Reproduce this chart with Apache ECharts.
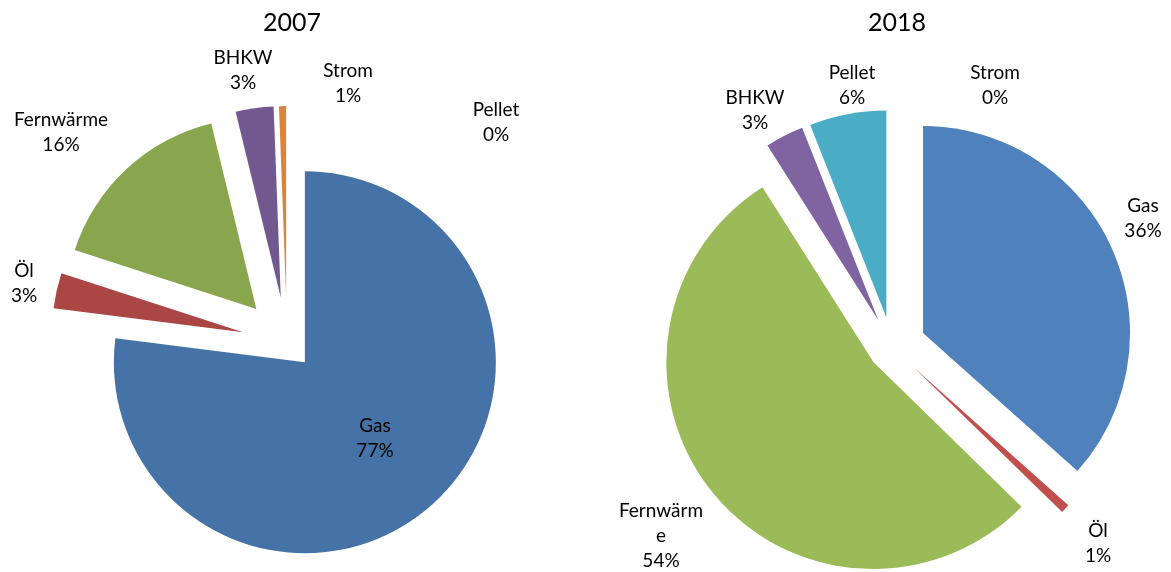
<!DOCTYPE html>
<html>
<head>
<meta charset="utf-8">
<script src="https://cdn.jsdelivr.net/npm/echarts@6/dist/echarts.min.js"></script>
<style>
  html, body { margin: 0; padding: 0; background: #fff; }
  #chart { width: 1171px; height: 572px; }
</style>
</head>
<body>
<div id="chart"></div>
<script>
// Heizungsarten 2007 / 2018 (Anteile in %, Beschriftung gerundet)
var names2007 = ['Gas', 'Öl', 'Fernwärme', 'BHKW', 'Strom', 'Pellet'];
var values2007 = [77.0, 3.0, 16.2, 3.2, 0.6, 0];
var colors2007 = ['#4572A7', '#AA4643', '#89A54E', '#71588F', '#DB843D', '#4198AF'];

var names2018 = ['Gas', 'Öl', 'Fernwärme', 'BHKW', 'Pellet', 'Strom'];
var values2018 = [36.6, 0.7, 53.7, 3.0, 6.0, 0];
var colors2018 = ['#4F81BD', '#C0504D', '#9BBB59', '#8064A2', '#4BACC6', '#F79646'];

// label anchor points (centre of the text block), as placed in the original
var labelPos2007 = [[375, 438], [24, 283], [61, 132], [243, 70], [348, 83], [496, 122]];
var labelPos2018 = [[1143, 218], [1098, 543], [661, 536], [755, 110], [852, 85], [995, 85]];

var FONT = 'Lato';
var NONE = 'rgba(0,0,0,0)';

var chart = echarts.init(document.getElementById('chart'));

// one layer of exploded slices: only the items picked by "keep" are painted
function sliceLayer(center, radius, offset, names, values, colors, keep) {
    return {
        type: 'pie',
        center: center,
        radius: radius,
        startAngle: 90,
        clockwise: true,
        silent: true,
        selectedMode: 'multiple',
        selectedOffset: offset,
        label: { show: false },
        labelLine: { show: false },
        emphasis: { disabled: true },
        data: names.map(function (n, i) {
            var c = keep(i) ? colors[i] : NONE;
            return {
                name: n,
                value: values[i],
                selected: keep(i),
                itemStyle: { color: c },
                select: { itemStyle: { color: c } }
            };
        })
    };
}

// invisible copy of the pie that only carries the labels
function labelLayer(center, radius, names, values, pos, extra) {
    return {
        type: 'pie',
        center: center,
        radius: radius,
        startAngle: 90,
        clockwise: true,
        silent: true,
        selectedMode: false,
        avoidLabelOverlap: false,
        percentPrecision: 0,
        itemStyle: { color: NONE },
        emphasis: { disabled: true },
        label: {
            show: true,
            position: 'outside',
            formatter: '{b}\n{d}%',
            fontFamily: FONT,
            fontSize: 19,
            lineHeight: 25,
            color: '#000',
            align: 'center'
        },
        labelLine: { show: false },
        labelLayout: function (params) {
            var p = pos[params.dataIndex];
            return { x: p[0], y: p[1], align: 'center', verticalAlign: 'middle' };
        },
        data: names.map(function (n, i) {
            var d = { name: n, value: values[i] };
            if (extra && extra[i]) d.label = extra[i];
            return d;
        })
    };
}

// the long name wraps after 8 letters in the original
function wrapName(p) {
    return p.name.slice(0, 8) + '\n' + p.name.slice(8) + '\n' + p.percent + '%';
}

var c2007 = [287, 342], r2007 = 191;
var c2018 = [892, 347], r2018 = 207;

function isIdx(list) {
    return function (i) { return list.indexOf(i) >= 0; };
}

var option = {
    animation: false,
    title: [
        { text: '2007', left: 287, top: 5, textAlign: 'center',
          textStyle: { fontFamily: FONT, fontSize: 25, fontWeight: 'normal', color: '#000' } },
        { text: '2018', left: 892, top: 5, textAlign: 'center',
          textStyle: { fontFamily: FONT, fontSize: 25, fontWeight: 'normal', color: '#000' } }
    ],
    series: [
        // 2007: Gas pulled out a little, the rest further
        sliceLayer(c2007, r2007, 27, names2007, values2007, colors2007, isIdx([0])),
        sliceLayer(c2007, r2007, 45, names2007, values2007, colors2007, isIdx([1, 2, 3, 4, 5])),
        labelLayer(c2007, r2007, names2007, values2007, labelPos2007),
        // 2018: every slice pulled out
        sliceLayer(c2018, r2018, 34, names2018, values2018, colors2018, isIdx([0])),
        sliceLayer(c2018, r2018, 24, names2018, values2018, colors2018, isIdx([2])),
        sliceLayer(c2018, r2018, 30, names2018, values2018, colors2018, isIdx([1, 3, 4, 5])),
        labelLayer(c2018, r2018, names2018, values2018, labelPos2018,
            { 2: { formatter: wrapName } })
    ]
};

chart.setOption(option);
window.addEventListener('resize', function () {
    chart.resize();
});
</script>
</body>
</html>
